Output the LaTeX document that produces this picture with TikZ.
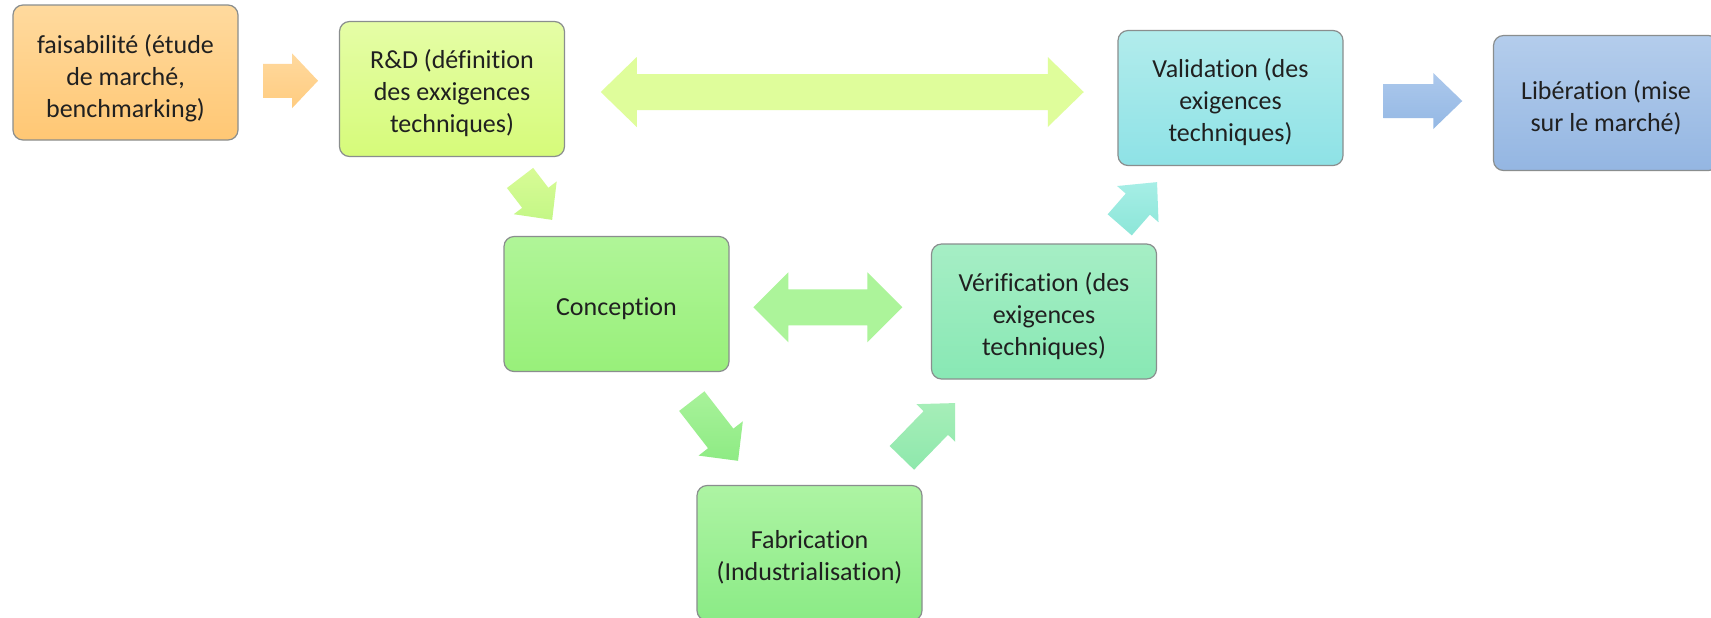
\documentclass[tikz,border=0pt]{standalone}
\usepackage{fontspec}
\setmainfont{Carlito}[Ligatures=NoCommon]
\usetikzlibrary{calc}

% box fills (top / bottom of each gradient)
\definecolor{faisT}{HTML}{FFDA9E}\definecolor{faisB}{HTML}{FFC774}
\definecolor{rdT}{HTML}{E5FDA6}\definecolor{rdB}{HTML}{D6FB7A}
\definecolor{valT}{HTML}{B2ECEC}\definecolor{valB}{HTML}{8EE2E6}
\definecolor{libT}{HTML}{B4CDEC}\definecolor{libB}{HTML}{94B6E2}
\definecolor{concT}{HTML}{B0F598}\definecolor{concB}{HTML}{98F07A}
\definecolor{verT}{HTML}{A6EEC5}\definecolor{verB}{HTML}{88E8B4}
\definecolor{fabT}{HTML}{ADF4A3}\definecolor{fabB}{HTML}{8BEB86}
\definecolor{txt}{HTML}{202020}
\definecolor{edge}{HTML}{8A8E8E}
% arrow fills
\definecolor{aOrT}{HTML}{FFD99E}\definecolor{aOrB}{HTML}{FFCC80}
\definecolor{aYg}{HTML}{DFFD9B}
\definecolor{aBlT}{HTML}{ACC8EC}\definecolor{aBlB}{HTML}{94B8E4}
\definecolor{aLgT}{HTML}{D8FB96}\definecolor{aLgB}{HTML}{C4F786}
\definecolor{aGrT}{HTML}{A8F29A}\definecolor{aGrB}{HTML}{8EEB84}
\definecolor{aGr}{HTML}{ACF49A}
\definecolor{aMiT}{HTML}{A6EEB8}\definecolor{aMiB}{HTML}{8EE8AC}
\definecolor{aTqT}{HTML}{A6EEE6}\definecolor{aTqB}{HTML}{8CE6D8}

% straight block arrow on the line from #2 towards #3
% #1 style, #4 tail, #5 head base, #6 tip (distances from #2),
% #7 half shaft width, #8 half head width
\newcommand\blockarrow[8]{%
  \path ($(#2)!#4!(#3)$) coordinate (baT)
        ($(#2)!#5!(#3)$) coordinate (baH)
        ($(#2)!#6!(#3)$) coordinate (baP);
  \path[#1] ($(baT)!#7!90:(#3)$) -- ($(baH)!#7!90:(#3)$) -- ($(baH)!#8!90:(#3)$)
    -- (baP) -- ($(baH)!#8!-90:(#3)$) -- ($(baH)!#7!-90:(#3)$)
    -- ($(baT)!#7!-90:(#3)$) -- cycle;
}
% double-headed block arrow: #4 left tip, #5 left base, #6 right base, #7 right tip
\newcommand\blockarrowboth[9]{%
  \path ($(#2)!#4!(#3)$) coordinate (bbL)
        ($(#2)!#5!(#3)$) coordinate (bbl)
        ($(#2)!#6!(#3)$) coordinate (bbr)
        ($(#2)!#7!(#3)$) coordinate (bbR);
  \path[#1] (bbL) -- ($(bbl)!#9!90:(#3)$) -- ($(bbl)!#8!90:(#3)$)
    -- ($(bbr)!#8!90:(#3)$) -- ($(bbr)!#9!90:(#3)$) -- (bbR)
    -- ($(bbr)!#9!-90:(#3)$) -- ($(bbr)!#8!-90:(#3)$)
    -- ($(bbl)!#8!-90:(#3)$) -- ($(bbl)!#9!-90:(#3)$) -- cycle;
}

\tikzset{
  stage/.style={draw=edge, line width=0.6pt, rounded corners=5pt,
    minimum width=112.5pt, minimum height=67.5pt},
  stagetext/.style={align=center, text=txt, inner sep=0pt,
    font=\fontsize{13}{16}\selectfont, yshift=-2.2pt},
  shadefill/.style 2 args={top color=#1, bottom color=#2},
}

\begin{document}
\begin{tikzpicture}[x=0.5pt,y=-0.5pt]
\useasboundingbox (0,0) rectangle (1711,617);
\clip (0,0) rectangle (1711,617);
\fill[white] (0,0) rectangle (1711,617);

% stages
\node[stage, shadefill={faisT}{faisB},
  label={[stagetext, yshift=-0.8pt]center:{faisabilité (étude\\de marché,\\benchmarking)}}]
  (fais) at (125.5,72.5) {};
\node[stage, shadefill={rdT}{rdB},
  label={[stagetext]center:{R\&D (définition\\des exxigences\\techniques)}}]
  (rd) at (452,89) {};
\node[stage, shadefill={valT}{valB},
  label={[stagetext]center:{Validation (des\\exigences\\techniques)}}]
  (val) at (1230.5,98) {};
\node[stage, shadefill={libT}{libB},
  label={[stagetext]center:{Libération (mise\\sur le marché)}}]
  (lib) at (1606,103) {};
\node[stage, shadefill={concT}{concB},
  label={[stagetext]center:{Conception}}]
  (conc) at (616.5,304) {};
\node[stage, shadefill={verT}{verB},
  label={[stagetext]center:{Vérification (des\\exigences\\techniques)}}]
  (ver) at (1044,311.5) {};
\node[stage, shadefill={fabT}{fabB},
  label={[stagetext]center:{Fabrication\\(Industrialisation)}}]
  (fab) at (809.5,553) {};

% end points of the horizontal arrows, taken from the gaps between boxes
\coordinate (g1) at ($(fais.east)!0.5!(rd.west)$);
\coordinate (a1s) at ($(g1)+(-25.75,0)$);
\coordinate (a1e) at ($(g1)+(29.25,0)$);
\coordinate (g2) at ($(rd.east)!0.5!(val.west)$);
\coordinate (a2s) at ($(g2)+(-240.5,-1.5)$);
\coordinate (a2e) at ($(g2)+(242.5,-1.5)$);
\coordinate (g3) at ($(val.east)!0.5!(lib.west)$);
\coordinate (a3s) at ($(g3)+(-35,0.5)$);
\coordinate (a3e) at ($(g3)+(44,0.5)$);
\coordinate (g4) at ($(conc.east)!0.5!(ver.west)$);
\coordinate (a4s) at ($(g4)+(-77,-0.5)$);
\coordinate (a4e) at ($(g4)+(72,-0.5)$);

% connectors
\blockarrow{shadefill={aOrT}{aOrB}}{a1s}{a1e}{0pt}{14.5pt}{27.5pt}{8.5pt}{13.75pt}
\blockarrowboth{fill=aYg}{a2s}{a2e}{0pt}{18pt}{223.5pt}{241.5pt}{9pt}{17.5pt}
\blockarrow{shadefill={aBlT}{aBlB}}{a3s}{a3e}{0pt}{25pt}{39.5pt}{8.5pt}{14pt}
\blockarrow{shadefill={aLgT}{aLgB}}{rd}{conc}{56pt}{68.5pt}{82.4pt}{8.25pt}{13.5pt}
\blockarrow{shadefill={aGrT}{aGrB}}{conc}{fab}{61.45pt}{85.05pt}{99.2pt}{8pt}{14pt}
\blockarrowboth{fill=aGr}{a4s}{a4e}{0pt}{17.5pt}{57pt}{74.5pt}{9pt}{17.5pt}
\blockarrow{shadefill={aMiT}{aMiB}}{fab}{ver}{66.3pt}{90.65pt}{104.5pt}{8.5pt}{13.5pt}
\blockarrow{shadefill={aTqT}{aTqB}}{ver}{val}{57.55pt}{71.3pt}{85.9pt}{8pt}{13.75pt}
\end{tikzpicture}
\end{document}
